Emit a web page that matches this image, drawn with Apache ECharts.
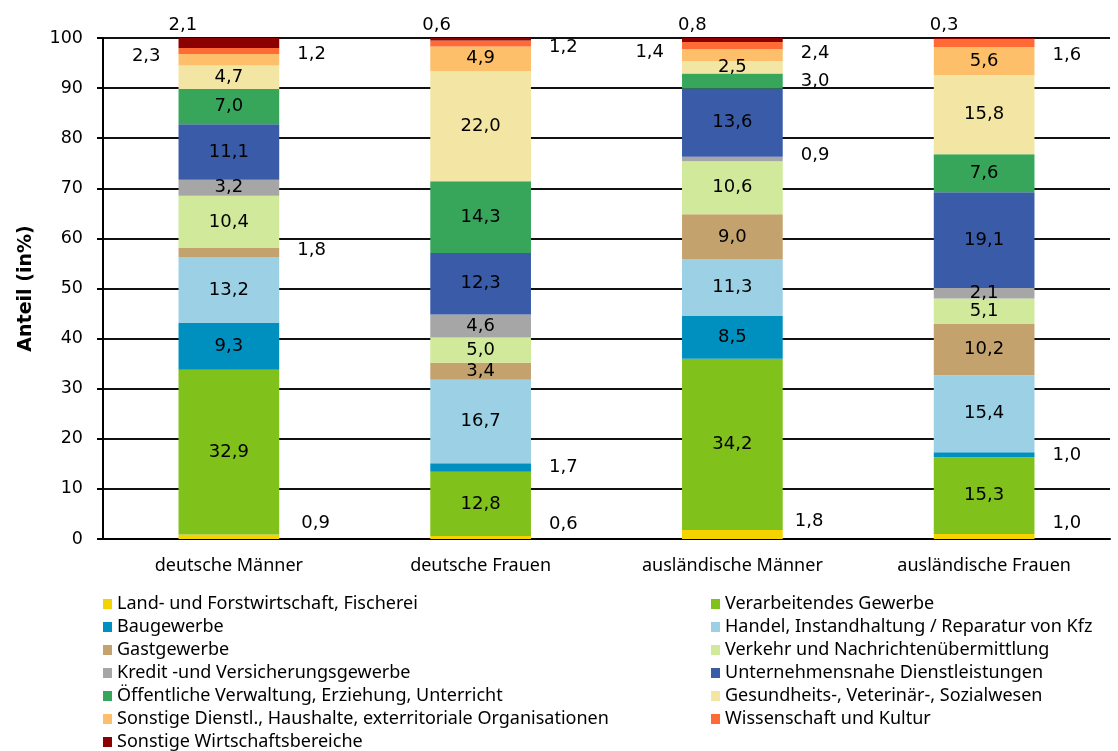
<!DOCTYPE html>
<html lang="de">
<head>
    <meta charset="UTF-8">
    <title>Anteil nach Wirtschaftsbereichen</title>
    <style>
        html, body { margin: 0; padding: 0; background: #fff; }
        #chart { width: 1118px; height: 751px; }
    </style>
</head>
<body>
<div id="chart"></div>
<script src="https://cdn.jsdelivr.net/npm/echarts@6/dist/echarts.min.js"></script>
<script type="text/javascript">
    // Gruppen (x-Achse)
    var categories = ['deutsche Männer', 'deutsche Frauen', 'ausländische Männer', 'ausländische Frauen'];

    // Wirtschaftsbereiche, von unten nach oben gestapelt
    var sectors = [
        'Land- und Forstwirtschaft, Fischerei',
        'Verarbeitendes Gewerbe',
        'Baugewerbe',
        'Handel, Instandhaltung / Reparatur von Kfz',
        'Gastgewerbe',
        'Verkehr und Nachrichtenübermittlung',
        'Kredit -und Versicherungsgewerbe',
        'Unternehmensnahe Dienstleistungen',
        'Öffentliche Verwaltung, Erziehung, Unterricht',
        'Gesundheits-, Veterinär-, Sozialwesen',
        'Sonstige Dienstl., Haushalte, exterritoriale Organisationen',
        'Wissenschaft und Kultur',
        'Sonstige Wirtschaftsbereiche'
    ];

    // Anteile in % je Bereich: [dt. Männer, dt. Frauen, ausl. Männer, ausl. Frauen]
    var landwirtschaft = [0.9, 0.6, 1.8, 1.0];
    var verarbeitend   = [32.9, 12.8, 34.2, 15.3];
    var baugewerbe     = [9.3, 1.7, 8.5, 1.0];
    var handel         = [13.2, 16.7, 11.3, 15.4];
    var gastgewerbe    = [1.8, 3.4, 9.0, 10.2];
    var verkehr        = [10.4, 5.0, 10.6, 5.1];
    var kredit         = [3.2, 4.6, 0.9, 2.1];
    var unternehmen    = [11.1, 12.3, 13.6, 19.1];
    var oeffentlich    = [7.0, 14.3, 3.0, 7.6];
    var gesundheit     = [4.7, 22.0, 2.5, 15.8];
    var sonstDienstl   = [2.3, 4.9, 2.4, 5.6];
    var wissenschaft   = [1.2, 1.2, 1.4, 1.6];
    var sonstBereiche  = [2.1, 0.6, 0.8, 0.3];

    var yTicks = [0, 10, 20, 30, 40, 50, 60, 70, 80, 90, 100];

    var values = [landwirtschaft, verarbeitend, baugewerbe, handel, gastgewerbe, verkehr, kredit,
        unternehmen, oeffentlich, gesundheit, sonstDienstl, wissenschaft, sonstBereiche];

    var colors = ['#f5d300', '#80c11c', '#0090c0', '#9bd0e5', '#c4a26d', '#d0e99a', '#a6a6a6',
        '#3a5ba7', '#37a65b', '#f3e5a3', '#fdbf6a', '#ff6b35', '#8b0000'];

    // Beschriftungen außerhalb der Balken: [Bereich, Gruppe, Position, dx, dy]
    var outside = [
        [0, 0, 'right', 4, -13], [0, 1, 'right', 0, -13], [0, 2, 'right', -6, -13], [0, 3, 'right', 0, -13],
        [2, 1, 'right', 0, 0], [2, 3, 'right', 0, 0],
        [4, 0, 'right', 0, -2],
        [6, 2, 'right', 0, -4],
        [8, 2, 'right', 0, 0],
        [10, 0, 'left', 0, -3], [10, 2, 'right', 0, -2],
        [11, 0, 'right', 0, 3], [11, 1, 'right', 0, 4], [11, 2, 'left', 0, 7], [11, 3, 'right', 0, 12],
        [12, 0, 'top', -46, 0], [12, 1, 'top', -44, 0], [12, 2, 'top', -40, 0], [12, 3, 'top', -40, 0]
    ];

    var numFont = 'DejaVu Sans';
    var textFont = 'Noto Sans';

    function fmt(v) {
        return v.toFixed(1).replace('.', ',');
    }

    var series = sectors.map(function (name, s) {
        var data = values[s].map(function (v, c) {
            var item = { value: v };
            outside.forEach(function (o) {
                if (o[0] === s && o[1] === c) {
                    item.label = { position: o[2], offset: [o[3], o[4]], distance: o[2] === 'top' ? 4 : 18 };
                }
            });
            return item;
        });
        return {
            name: name,
            type: 'bar',
            stack: 'total',
            barWidth: '40%',
            itemStyle: { color: colors[s] },
            label: {
                show: true,
                position: 'inside',
                color: '#000',
                fontFamily: numFont,
                fontSize: 18,
                formatter: function (p) { return fmt(p.value); }
            },
            data: data
        };
    });

    var legendBase = {
        orient: 'vertical',
        top: 595,
        height: 250,
        padding: 0,
        itemWidth: 9,
        itemHeight: 10,
        itemGap: 5,
        icon: 'rect',
        textStyle: { fontFamily: textFont, fontSize: 18, color: '#000', lineHeight: 16 }
    };

    var option = {
        animation: false,
        color: colors,
        grid: { left: 103, right: 8, top: 38, bottom: 212 },
        legend: [
            Object.assign({}, legendBase, { left: 103, data: sectors.filter(function (n, i) { return i % 2 === 0; }) }),
            Object.assign({}, legendBase, { left: 711, data: sectors.filter(function (n, i) { return i % 2 === 1; }) })
        ],
        xAxis: {
            type: 'category',
            data: categories,
            axisLine: { lineStyle: { color: '#000', width: 2 } },
            axisTick: { length: 6, lineStyle: { color: '#000', width: 2 } },
            axisLabel: { margin: 18, color: '#000', fontFamily: textFont, fontSize: 18 }
        },
        yAxis: {
            type: 'value',
            min: yTicks[0],
            max: yTicks[yTicks.length - 1],
            interval: yTicks[1] - yTicks[0],
            name: 'Anteil (in%)',
            nameLocation: 'middle',
            nameGap: 67,
            nameTextStyle: { fontFamily: numFont, fontWeight: 'bold', fontSize: 19, color: '#000' },
            axisLine: { show: true, lineStyle: { color: '#000', width: 2 } },
            axisTick: { show: true, length: 6, lineStyle: { color: '#000', width: 2 } },
            axisLabel: { margin: 20, color: '#000', fontFamily: numFont, fontSize: 17.5 },
            splitLine: { lineStyle: { color: '#111', width: 2 } }
        },
        series: series
    };

    var chart = echarts.init(document.getElementById('chart'));
    chart.setOption(option);
</script>
</body>
</html>
